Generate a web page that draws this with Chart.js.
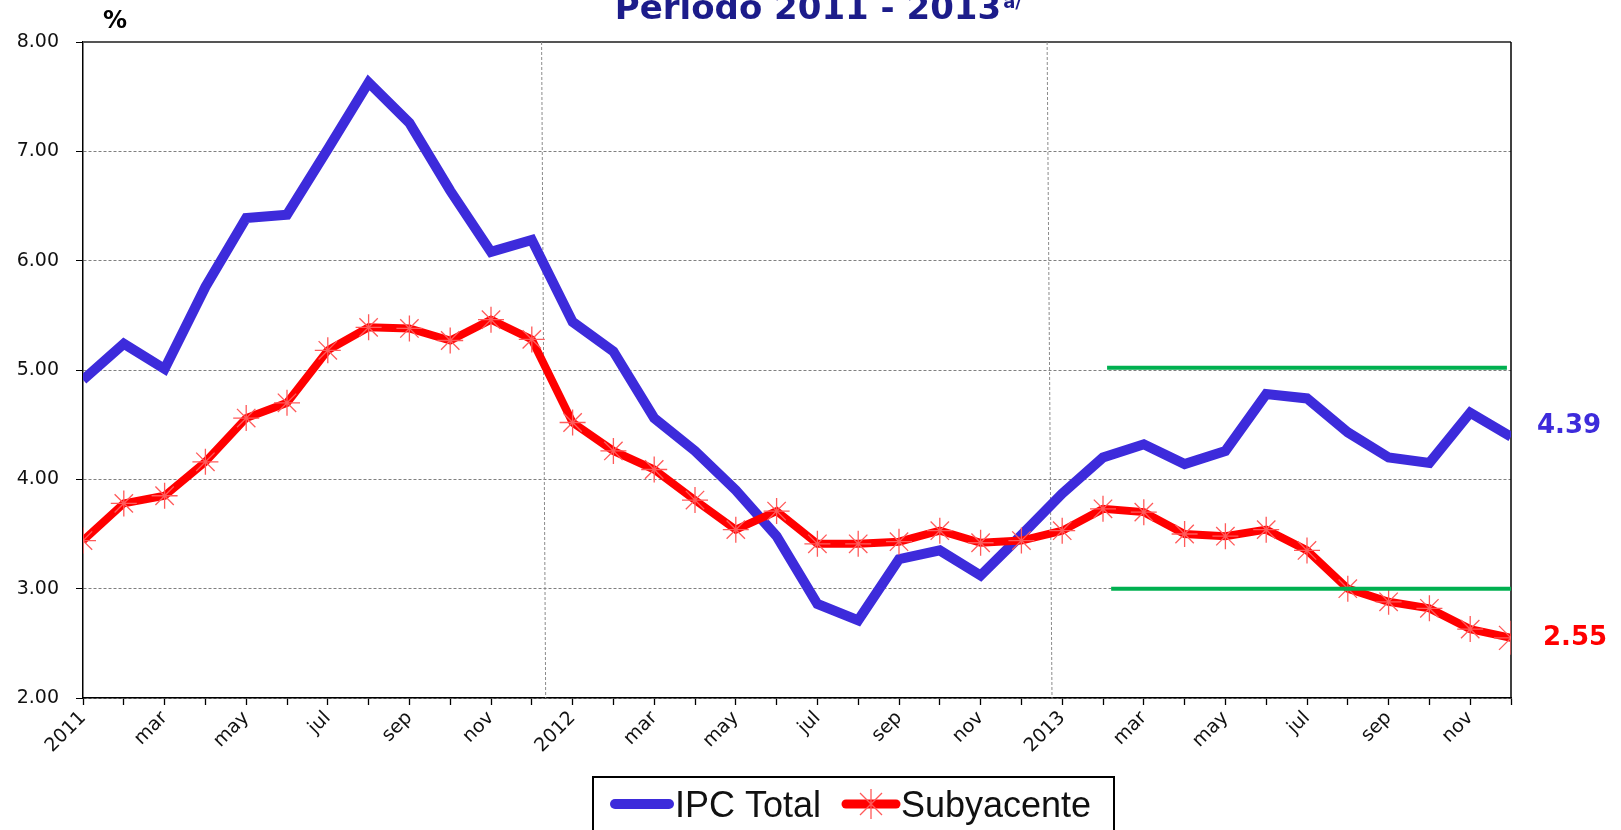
<!DOCTYPE html>
<html>
<head>
<meta charset="utf-8">
<script src="https://cdn.jsdelivr.net/npm/chart.js"></script>
<style>
  body { margin: 0; background: #fff; }
  #wrap { width: 1621px; height: 830px; }
</style>
</head>
<body>
<div id="wrap"><canvas id="chart" width="1621" height="830"></canvas></div>
<script>
// x labels every two months, Jan 2011 .. Nov 2013
const tickLabels = ['2011', 'mar', 'may', 'jul', 'sep', 'nov',
                    '2012', 'mar', 'may', 'jul', 'sep', 'nov',
                    '2013', 'mar', 'may', 'jul', 'sep', 'nov'];

// inflation, monthly, Jan 2011 .. Dec 2013
const ipcTotal = [4.91, 5.24, 5.01, 5.76, 6.39, 6.42, 7.02, 7.63, 7.26, 6.64, 6.08, 6.19,
                  5.44, 5.17, 4.56, 4.26, 3.90, 3.48, 2.86, 2.71, 3.27, 3.35, 3.12, 3.49,
                  3.87, 4.20, 4.32, 4.14, 4.26, 4.78, 4.74, 4.43, 4.20, 4.15, 4.61, 4.39];
const subyacente = [3.44, 3.78, 3.85, 4.16, 4.56, 4.70, 5.18, 5.39, 5.38, 5.27, 5.46, 5.28,
                    4.52, 4.26, 4.09, 3.81, 3.54, 3.71, 3.41, 3.41, 3.43, 3.53, 3.42, 3.44,
                    3.53, 3.73, 3.70, 3.50, 3.48, 3.54, 3.35, 3.00, 2.88, 2.82, 2.63, 2.55];

// target band lines (month index from/to, value)
const metaSup = [[25.1, 5.02], [34.9, 5.02]];
const metaInf = [[25.2, 3.00], [35.0, 3.00]];
// year separators (month index at top / bottom)
const sep2012 = [[11.24, 8], [11.34, 2]];
const sep2013 = [[23.63, 8], [23.75, 2]];

const BLUE = '#3D2BDB';
const RED = '#FF0000';
const GREEN = '#00B050';

const toXY = arr => arr.map(p => ({ x: p[0], y: p[1] }));

const decor = {
  id: 'decor',
  beforeDatasetsDraw(chart) {
    const { ctx, chartArea: a } = chart;
    ctx.save();
    ctx.strokeStyle = '#555';
    ctx.lineWidth = 2;
    ctx.beginPath();
    ctx.moveTo(a.left, a.top);
    ctx.lineTo(a.right, a.top);
    ctx.stroke();
    ctx.strokeStyle = '#000';
    ctx.lineWidth = 1.5;
    ctx.beginPath();
    ctx.moveTo(a.right, a.top);
    ctx.lineTo(a.right, a.bottom);
    ctx.stroke();
    ctx.restore();
  },
  afterDraw(chart) {
    const { ctx } = chart;
    const xs = chart.scales.x, ys = chart.scales.y;
    ctx.save();

    // title (top is cut off in the original)
    ctx.fillStyle = '#1C1C8A';
    ctx.font = 'bold 34px "DejaVu Sans"';
    ctx.textAlign = 'center';
    ctx.textBaseline = 'alphabetic';
    const t = 'Periodo 2011 - 2013';
    ctx.fillText(t, 808, 19);
    const w = ctx.measureText(t).width;
    ctx.textAlign = 'left';
    ctx.font = 'bold 18px "DejaVu Sans"';
    ctx.fillText('a/', 808 + w / 2 + 2, 8);

    // unit
    ctx.fillStyle = '#000';
    ctx.font = 'bold 24px "DejaVu Sans"';
    ctx.fillText('%', 103, 28);

    // last values
    ctx.font = 'bold 26px "DejaVu Sans"';
    ctx.textBaseline = 'middle';
    const last = ipcTotal.length - 1;
    ctx.fillStyle = BLUE;
    ctx.fillText(ipcTotal[last].toFixed(2), xs.getPixelForValue(last) + 26, ys.getPixelForValue(ipcTotal[last]) - 10);
    ctx.fillStyle = RED;
    ctx.fillText(subyacente[last].toFixed(2), xs.getPixelForValue(last) + 32, ys.getPixelForValue(subyacente[last]));

    // legend
    ctx.strokeStyle = '#000';
    ctx.lineWidth = 2;
    ctx.strokeRect(593, 777, 521, 70);
    ctx.lineCap = 'round';
    ctx.strokeStyle = BLUE;
    ctx.lineWidth = 10;
    ctx.beginPath(); ctx.moveTo(615, 804); ctx.lineTo(669, 804); ctx.stroke();
    ctx.strokeStyle = RED;
    ctx.lineWidth = 9;
    ctx.beginPath(); ctx.moveTo(846, 804); ctx.lineTo(896, 804); ctx.stroke();
    ctx.lineCap = 'butt';
    ctx.strokeStyle = '#FF5A5A';
    ctx.lineWidth = 1.3;
    ctx.beginPath();
    ctx.moveTo(871, 789); ctx.lineTo(871, 819);
    ctx.moveTo(860, 793); ctx.lineTo(882, 815);
    ctx.moveTo(882, 793); ctx.lineTo(860, 815);
    ctx.stroke();
    ctx.fillStyle = '#111';
    ctx.font = '36px "Liberation Sans"';
    ctx.textBaseline = 'alphabetic';
    ctx.fillText('IPC Total', 675, 817);
    ctx.fillText('Subyacente', 901, 817);
    ctx.restore();
  }
};

const sepStyle = {
  borderColor: '#8a8a8a', borderWidth: 1, borderDash: [3, 2],
  pointRadius: 0, order: 4
};

new Chart(document.getElementById('chart'), {
  type: 'line',
  data: {
    datasets: [
      { label: 'meta sup', data: toXY(metaSup), borderColor: GREEN, borderWidth: 4, pointRadius: 0, order: 0 },
      { label: 'meta inf', data: toXY(metaInf), borderColor: GREEN, borderWidth: 4, pointRadius: 0, order: 0 },
      {
        label: 'Subyacente',
        data: subyacente.map((v, i) => ({ x: i, y: v })),
        borderColor: RED, borderWidth: 8,
        pointStyle: 'star',
        pointRadius: c => c.dataIndex === subyacente.length - 1 ? 17 : 13,
        pointBorderColor: '#FF5A5A', pointBorderWidth: 1.3, pointBackgroundColor: '#FF5A5A',
        order: 1
      },
      {
        label: 'IPC Total',
        data: ipcTotal.map((v, i) => ({ x: i, y: v })),
        borderColor: BLUE, borderWidth: 10, pointRadius: 0,
        order: 2
      },
      Object.assign({ label: 'sep 2012', data: toXY(sep2012) }, sepStyle),
      Object.assign({ label: 'sep 2013', data: toXY(sep2013) }, sepStyle)
    ]
  },
  options: {
    responsive: false,
    animation: false,
    devicePixelRatio: 1,
    layout: { padding: { left: 0, right: 110, top: 42, bottom: 0 } },
    plugins: { legend: { display: false }, tooltip: { enabled: false } },
    scales: {
      x: {
        type: 'linear', min: 0, max: 35,
        afterFit: s => { s.height = 132; },
        grid: { drawOnChartArea: false, drawTicks: true, tickLength: 7, tickColor: '#000', tickWidth: 1.3 },
        border: { display: true, color: '#000', width: 1.5 },
        ticks: {
          stepSize: 1, autoSkip: false, maxRotation: 45, minRotation: 45, padding: 2,
          color: '#111', font: { family: 'DejaVu Sans', size: 19 },
          callback: v => (Math.round(v) % 2 === 0 ? tickLabels[Math.round(v) / 2] : '')
        }
      },
      y: {
        min: 2, max: 8,
        afterFit: s => { s.width = 83; },
        grid: { color: '#808080', lineWidth: 1, drawTicks: true, tickLength: 7, tickColor: '#000', tickBorderDash: [] },
        border: { display: true, color: '#000', width: 1.5, dash: [3, 2] },
        ticks: {
          stepSize: 1, padding: 17,
          color: '#111', font: { family: 'DejaVu Sans', size: 19 },
          callback: v => v.toFixed(2)
        }
      }
    }
  },
  plugins: [decor]
});
</script>
</body>
</html>
